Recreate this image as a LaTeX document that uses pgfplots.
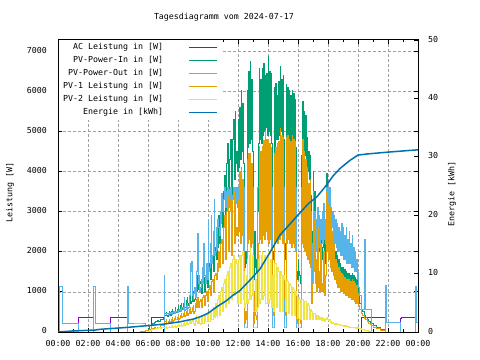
\documentclass[border=0pt]{standalone}
\usepackage{fontspec}
\setmainfont{DejaVu Sans Mono}
\usepackage{pgfplots}
\usepackage{pgfplotstable}
\pgfplotsset{compat=1.18}
\definecolor{cac}{HTML}{9400D3}
\definecolor{cin}{HTML}{009E73}
\definecolor{cout}{HTML}{56B4E9}
\definecolor{cpva}{HTML}{E69F00}
\definecolor{cpvb}{HTML}{F0E442}
\definecolor{cen}{HTML}{0072B2}
\definecolor{cgrid}{HTML}{A0A0A0}

\pgfplotstableread{
t pin pout pva pvb ac
0.00 0 0 0 0 0
0.12 0 1130 0 0 0
0.27 0 200 0 0 0
1.36 0 0 0 0 367
2.36 0 1130 0 0 0
2.50 0 200 0 0 0
3.53 0 0 0 0 367
4.60 0 1130 0 0 0
4.73 0 200 0 0 0
5.50 0 200 20 0 0
5.80 40 150 30 0 0
6.00 80 150 40 10 0
6.10 150 150 50 30 0
6.20 180 0 60 50 367
6.30 200 0 80 60 367
6.40 230 0 100 70 367
6.50 250 0 90 80 367
6.60 280 0 120 90 367
6.70 260 0 110 100 367
6.80 300 0 150 90 367
6.90 320 0 170 110 367
7.00 340 0 160 100 367
7.07 380 1420 200 120 0
7.13 420 460 250 110 0
7.20 480 430 300 130 0
7.25 400 450 200 90 0
7.30 380 470 220 110 0
7.35 450 440 260 120 0
7.40 520 420 320 140 0
7.45 430 470 230 100 0
7.50 420 480 250 120 0
7.55 500 450 300 130 0
7.60 550 440 350 150 0
7.65 460 490 260 110 0
7.70 450 500 280 130 0
7.75 520 460 330 140 0
7.80 600 460 380 160 0
7.85 500 520 300 120 0
7.90 480 510 300 140 0
7.95 560 480 350 150 0
8.00 650 480 420 180 0
8.05 500 540 300 130 0
8.10 520 560 330 150 0
8.15 650 500 400 170 0
8.20 720 520 460 200 0
8.25 550 600 350 140 0
8.30 580 620 380 170 0
8.35 700 560 450 200 0
8.40 780 850 500 230 0
8.45 600 540 380 150 0
8.50 620 560 400 190 0
8.55 780 650 500 230 0
8.60 850 700 560 260 0
8.65 650 580 420 180 0
8.70 700 600 450 220 0
8.75 880 900 560 260 0
8.80 950 1700 600 300 0
8.85 700 1500 450 200 0
8.90 760 1750 500 250 0
8.95 900 900 600 280 0
9.00 1000 800 650 330 0
9.05 750 950 450 200 0
9.10 820 1100 520 150 0
9.15 1100 850 700 350 0
9.20 1300 900 800 420 0
9.25 1000 1500 600 250 0
9.30 1400 2450 850 200 0
9.35 1050 1200 600 350 0
9.40 1000 1400 650 360 0
9.45 1200 1000 750 200 0
9.50 1250 1100 820 180 0
9.55 950 1300 600 380 0
9.60 1100 1600 700 400 0
9.65 1300 1200 850 220 0
9.70 1350 2200 900 200 0
9.75 1000 1400 650 430 0
9.80 1150 1300 750 420 0
9.85 1400 1200 900 250 0
9.90 1500 1700 1000 250 0
9.95 1100 1300 750 480 0
10.00 1300 2800 850 480 0
10.05 1600 1500 1050 250 0
10.10 1700 1600 1150 250 0
10.15 1300 2200 900 520 0
10.20 1500 2900 1000 520 0
10.25 1800 1700 1250 300 0
10.30 1900 1900 1300 300 0
10.35 1500 2500 1000 600 0
10.40 1700 3300 1150 580 0
10.45 2000 1900 1400 350 0
10.50 2100 2000 1450 700 0
10.55 1800 2600 1300 400 0
10.60 2400 2050 1700 350 0
10.65 2100 2800 1500 800 0
10.70 2900 2600 2000 900 0
10.75 2200 2400 1600 400 0
10.80 2500 3000 1800 450 0
10.85 3000 2700 2200 1000 0
10.90 3300 3450 2300 1100 0
10.95 2600 3000 1700 500 0
11.00 2800 3000 2000 500 0
11.05 3500 3300 2600 1200 0
11.10 3900 3600 2900 1300 0
11.15 2900 3100 1800 600 0
11.20 3000 3500 2200 600 0
11.25 4200 3300 3000 1400 0
11.30 4700 3600 3400 1500 0
11.35 3500 3100 2000 700 0
11.40 4000 3550 2800 700 0
11.45 4300 3200 3000 1600 0
11.50 4800 3600 3300 1700 0
11.55 3400 3000 1900 800 0
11.60 3500 3200 2000 800 0
11.65 4800 3400 3300 1800 0
11.70 5300 3600 3500 1900 0
11.75 3800 3100 2200 900 0
11.80 5500 3600 3400 900 0
11.85 4200 3200 2400 1800 0
11.90 4500 3600 2600 1700 0
11.95 4000 3100 2400 700 0
12.00 5300 3600 3300 800 0
12.05 4100 3300 2500 1800 0
12.10 5600 3600 4000 1900 0
12.15 4300 3600 2200 700 0
12.20 6040 3600 4100 900 0
12.25 4500 3600 2400 1900 0
12.30 5700 3600 3800 2000 0
12.35 4200 3600 2000 800 0
12.40 1800 100 300 1500 0
12.45 1600 100 200 600 0
12.50 2000 100 500 700 0
12.55 1700 100 300 1400 0
12.60 6040 3600 4300 1800 0
12.65 4600 3600 2200 700 0
12.70 6500 3600 4460 800 0
12.75 4700 3600 2300 1900 0
12.80 6750 3600 4460 2100 0
12.85 4800 3600 2100 800 0
12.90 6300 3600 4200 900 0
12.95 4500 3600 2200 1900 0
13.00 1500 100 300 1200 0
13.05 1300 100 200 500 0
13.10 2500 100 1000 500 0
13.15 1600 100 400 1300 0
13.20 1800 100 400 1300 0
13.25 1500 100 300 500 0
13.30 3000 3600 1500 600 0
13.35 4700 3600 2200 1800 0
13.40 6580 3600 4620 1900 0
13.45 4800 3600 2300 700 0
13.50 6300 3600 4500 800 0
13.55 4700 3600 2200 1900 0
13.60 6580 3600 4620 2000 0
13.65 4900 3600 2400 800 0
13.70 6700 3600 4790 900 0
13.75 5000 3600 2300 1900 0
13.80 6400 3600 5040 1800 0
13.85 5100 3600 2500 700 0
13.90 6450 3600 4800 700 0
13.95 4900 3600 2300 1800 0
14.00 6870 3600 4800 2000 0
14.05 5000 3600 2200 700 0
14.10 6500 3600 4700 800 0
14.15 4900 3600 2300 1800 0
14.20 6450 3600 4600 1700 0
14.25 4700 3600 2100 600 0
14.30 2000 100 600 1400 0
14.35 1800 100 400 500 0
14.40 6100 3600 4460 600 0
14.45 4600 3600 2200 1700 0
14.50 6200 3600 4600 1700 0
14.55 4800 3600 2300 600 0
14.60 5900 3600 4700 700 0
14.65 4800 3600 2200 1600 0
14.70 6250 3600 4750 1500 0
14.75 4900 3600 2300 500 0
14.80 6620 3600 5080 600 0
14.85 5000 3600 2400 1500 0
14.90 6300 3600 4900 1400 0
14.95 4900 3600 2200 500 0
15.00 6400 3600 4850 600 0
15.05 4800 3600 2300 1400 0
15.10 2200 100 800 1300 0
15.15 1800 100 400 500 0
15.20 6170 3600 4850 500 0
15.25 4800 3600 2200 1300 0
15.30 6100 3600 4900 1250 0
15.35 4800 3600 2300 450 0
15.40 6040 3600 4800 500 0
15.45 4700 3600 2200 1200 0
15.50 5900 3600 4750 1150 0
15.55 4700 3600 2100 400 0
15.60 6040 3600 4900 450 0
15.65 4800 3600 2200 1100 0
15.70 5950 3600 4800 1050 0
15.75 4700 3600 2100 400 0
15.80 5800 3600 4750 400 0
15.85 4600 3600 2000 1000 0
15.90 1500 100 300 900 0
15.95 1300 100 200 350 0
16.00 1800 100 500 400 0
16.05 1500 100 300 850 0
16.10 1400 100 300 800 0
16.15 1200 100 200 300 0
16.20 2800 2000 1500 350 0
16.25 4400 3600 2200 800 0
16.30 5750 3600 4800 800 0
16.35 4600 3600 2100 300 0
16.40 5500 3600 4500 350 0
16.45 4400 3600 2000 750 0
16.50 5400 3600 4300 750 0
16.55 4200 3600 1900 300 0
16.60 4850 3600 4100 300 0
16.65 4000 3600 1800 700 0
16.70 4500 3600 3700 650 0
16.75 3800 3300 1700 300 0
16.80 4400 3300 3800 300 0
16.85 3400 3000 1600 550 0
16.90 1500 1000 700 500 0
16.95 2500 2200 1200 300 0
17.00 4000 3100 3500 330 0
17.05 2800 2500 1500 450 0
17.10 3500 3000 2800 450 0
17.15 2300 2300 1200 300 0
17.20 2500 2800 1800 420 0
17.25 2100 2000 1000 300 0
17.30 3000 3100 2600 400 0
17.35 2000 2400 1100 300 0
17.40 2000 2900 1500 380 0
17.45 2200 2100 1000 300 0
17.50 2700 2800 2200 350 0
17.55 1800 2300 1000 280 0
17.60 1800 3000 1200 350 0
17.65 2100 2200 1000 280 0
17.70 2400 3200 2000 330 0
17.75 1700 2300 900 260 0
17.80 1900 2800 1300 320 0
17.85 2500 2200 1400 300 0
17.90 3960 3600 3500 350 0
17.95 3000 3100 2000 300 0
18.00 3600 3600 3200 320 0
18.05 2800 3000 1800 280 0
18.10 3400 3600 3100 300 0
18.15 2600 2800 1600 230 0
18.20 3000 3100 2700 250 0
18.25 2200 2600 1500 220 0
18.30 2500 3000 2500 230 0
18.35 2000 2400 1400 200 0
18.40 2200 2900 2200 220 0
18.45 1800 2200 1300 190 0
18.50 2000 2800 1800 200 0
18.55 1700 2100 1200 180 0
18.60 1900 2700 1700 200 0
18.65 1600 2000 1100 180 0
18.70 1800 2600 1600 190 0
18.75 1500 2000 1100 170 0
18.80 1700 2500 1500 180 0
18.85 1400 1900 1000 160 0
18.90 1600 2700 1450 170 0
18.95 1350 1900 1000 150 0
19.00 1600 2600 1400 160 0
19.05 1300 1800 950 140 0
19.10 1550 2400 1350 150 0
19.15 1250 1800 900 140 0
19.20 1500 2600 1300 150 0
19.25 1200 1700 900 130 0
19.30 1450 2300 1300 140 0
19.35 1200 1700 850 120 0
19.40 1450 2500 1300 130 0
19.45 1150 1700 850 120 0
19.50 1400 2200 1250 120 0
19.55 1150 1600 800 110 0
19.60 1450 2400 1300 120 0
19.65 1100 1600 800 100 0
19.70 1400 2100 1250 110 0
19.75 1100 1500 750 100 0
19.80 1350 2000 1200 100 0
19.85 1050 1500 700 90 0
19.90 1300 1800 1150 100 0
19.95 1000 1300 700 90 0
20.00 1100 1500 950 100 0
20.05 900 1100 650 90 0
20.10 700 900 550 80 0
20.20 550 550 450 70 367
20.30 500 550 400 60 367
20.40 420 550 350 50 367
20.45 400 2300 330 45 367
20.50 350 550 300 40 367
20.60 300 550 250 30 367
20.70 250 550 200 20 367
20.80 220 550 180 10 367
20.90 200 0 160 0 367
21.00 150 0 120 0 367
21.20 100 0 80 0 367
21.50 50 0 40 0 367
21.80 0 1170 0 0 0
21.93 0 225 0 0 0
22.80 0 0 0 0 330
22.87 0 0 0 0 367
23.80 0 1130 0 0 0
23.93 0 225 0 0 0
24.00 0 225 0 0 0
}\power

\pgfplotstableread{
t e
0 0
0.93 0.17
2.5 0.34
2.8 0.46
4.67 0.80
5.93 1.08
7.13 1.37
8.13 1.75
9.0 2.2
9.47 2.6
10.0 3.2
10.58 4.3
11.25 5.4
11.67 6.3
12.13 7.1
12.8 8.9
13.47 10.8
14.1 13.5
14.8 16.6
15.5 18.6
16.13 20.4
16.7 22.0
17.24 23.1
17.6 24.2
18.0 25.5
18.33 26.7
18.8 28.0
19.47 29.4
20.0 30.3
20.67 30.5
22.0 30.8
24.0 31.2
}\energy

\pgfplotsset{
  base/.style={
    at={(58bp,28bp)}, anchor=south west,
    scale only axis, width=360bp, height=292bp,
    xmin=0, xmax=24,
    font=\fontsize{8.3bp}{10bp}\selectfont,
    /pgf/number format/assume math mode=true,
    /pgf/number format/1000 sep={},
    axis line style={black, line width=1bp},
    tick style={black, line width=1bp},
    major tick length=4bp, minor tick length=2.5bp,
    tick align=inside,
  }
}

\begin{document}
\begin{tikzpicture}
\useasboundingbox (0,0) rectangle (480bp,360bp);
\begin{axis}[base,
  ymin=0, ymax=7290,
  xtick={0,2,...,24},
  xticklabels={00:00,02:00,04:00,06:00,08:00,10:00,12:00,14:00,16:00,18:00,20:00,22:00,00:00},
  minor xtick={1,3,...,23},
  ytick={0,1000,...,7000},
  grid=major,
  major grid style={cgrid, dash pattern=on 2.5bp off 2.5bp, line width=0.8bp},
  xticklabel style={anchor=center, inner sep=0pt, yshift=-11.5bp},
  yticklabel style={anchor=east, inner sep=0pt, xshift=-11bp, yshift=1.5bp},
  ylabel={Leistung [W]},
  ylabel style={at={(axis description cs:-0.1333,0.479)}, anchor=center},
  title={Tagesdiagramm vom 2024-07-17},
  every axis title shift=0pt,
  title style={at={(axis description cs:0.461,1.079)}, anchor=center, inner sep=0pt},
  legend plot pos=right,
  legend cell align=right,
  legend image code/.code={\draw[#1, line width=1.2bp] (0bp,0bp) -- (28bp,0bp);},
  legend style={at={(axis description cs:0,1)}, anchor=north west, xshift=1bp,
    draw=none, fill=white, inner xsep=4bp, inner ysep=3.7bp,
    row sep=5.5bp, column sep=25bp,
    nodes={inner sep=0pt, text height=6bp, text depth=1.5bp},
    font=\fontsize{8.3bp}{10bp}\selectfont},
  every axis plot/.append style={const plot mark left, line width=1bp},
]
\addplot[cac] table[x=t, y=ac]{\power};
\addlegendentry{AC Leistung in [W]}
\addplot[cin] table[x=t, y=pin]{\power};
\addlegendentry{PV-Power-In in [W]}
\addplot[cout] table[x=t, y=pout]{\power};
\addlegendentry{PV-Power-Out in [W]}
\addplot[cpva] table[x=t, y=pva]{\power};
\addlegendentry{PV-1 Leistung in [W]}
\addplot[cpvb] table[x=t, y=pvb]{\power};
\addlegendentry{PV-2 Leistung in [W]}
\addlegendimage{cen, line width=1.2bp}
\addlegendentry{Energie in [kWh]}
\end{axis}
\begin{axis}[base,
  ymin=0, ymax=50,
  axis x line=none,
  axis y line*=right,
  ytick={0,10,...,50},
  yticklabel style={anchor=west, inner sep=0pt, xshift=10bp, yshift=1bp},
  ylabel={Energie [kWh]},
  ylabel style={at={(axis description cs:1.0944,0.471)}, anchor=center},
]
\addplot[cen, line width=1.5bp] table[x=t, y=e]{\energy};
\end{axis}
\end{tikzpicture}
\end{document}
